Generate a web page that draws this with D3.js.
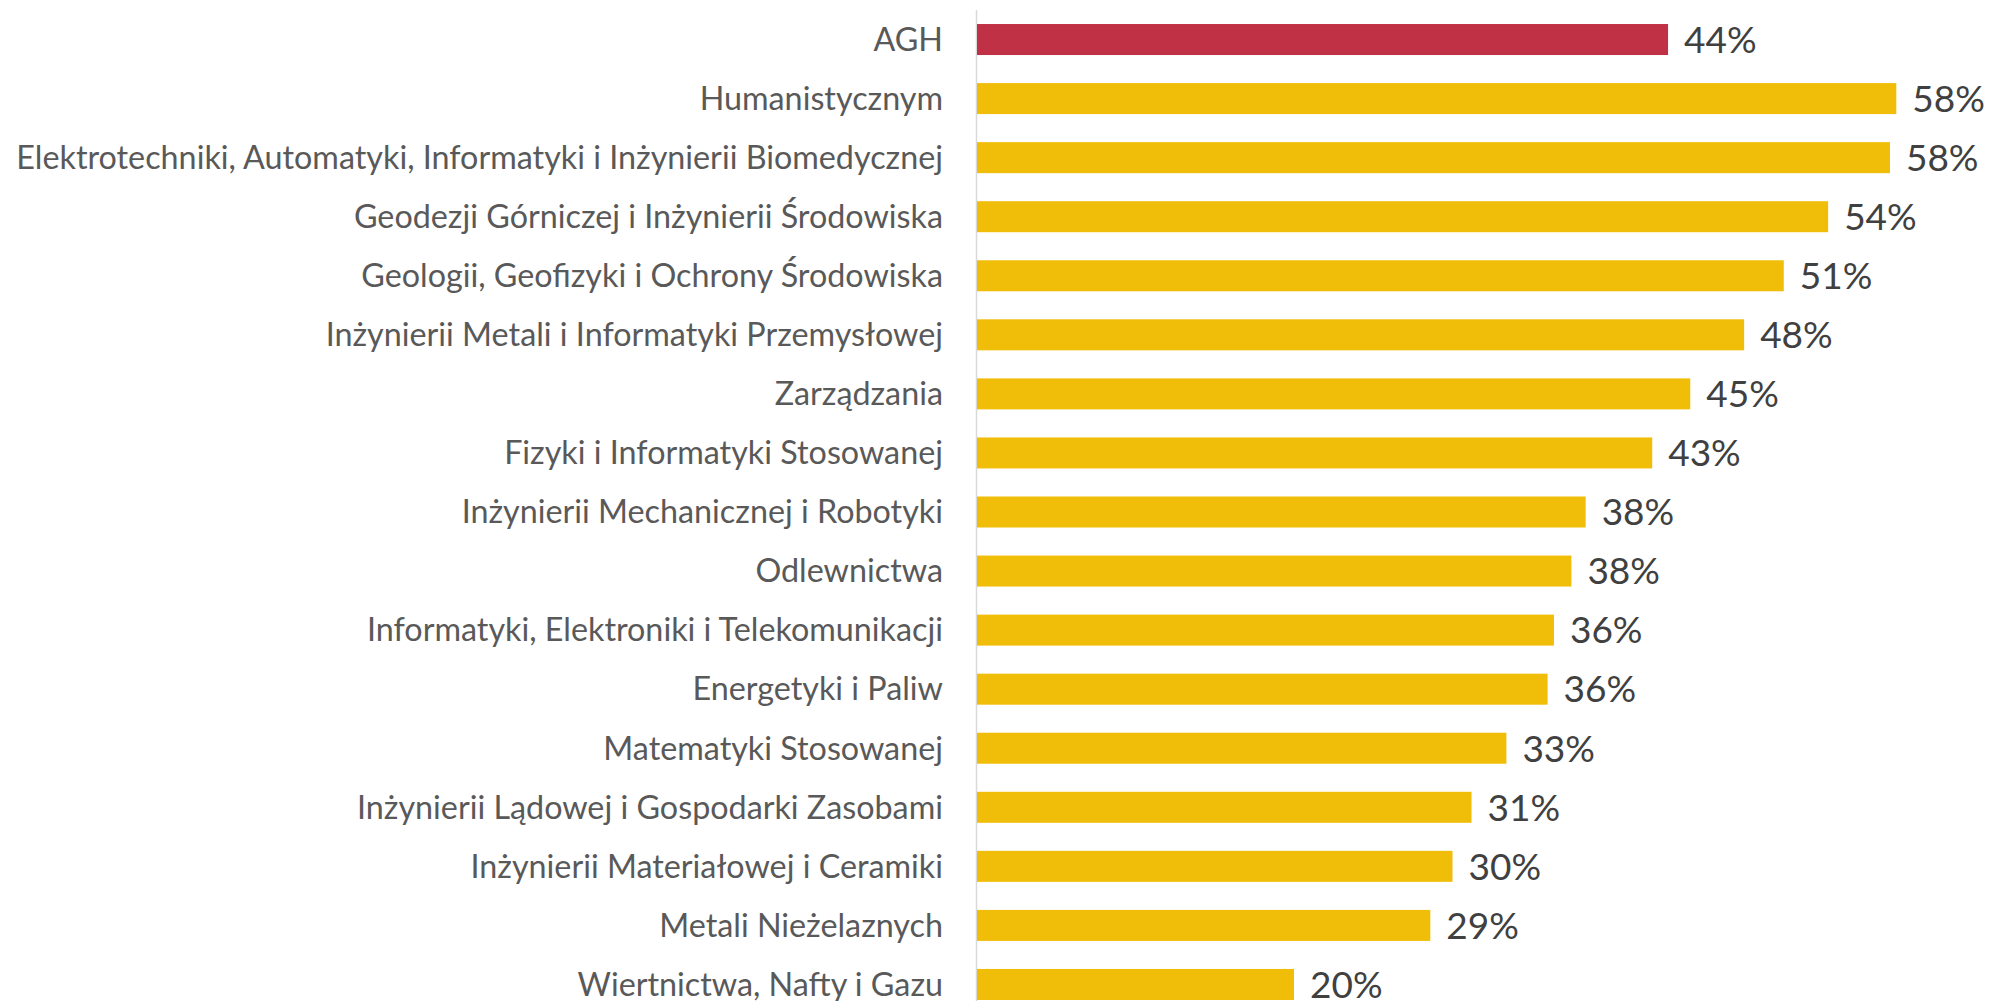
<!DOCTYPE html>
<html>
<head>
<meta charset="utf-8">
<script src="https://cdn.jsdelivr.net/npm/d3@7"></script>
<style>
    body { margin: 0; background: #ffffff; }
    .cat { font-family: Lato, "Open Sans", sans-serif; font-size: 32.3px; fill: #595959; }
    .val { font-family: Lato, "Open Sans", sans-serif; font-size: 37px; fill: #404040; }
</style>
</head>
<body>
<svg></svg>
<script>
document.addEventListener('DOMContentLoaded', function() {

let categories = [
    "AGH",
    "Humanistycznym",
    "Elektrotechniki, Automatyki, Informatyki i Inżynierii Biomedycznej",
    "Geodezji Górniczej i Inżynierii Środowiska",
    "Geologii, Geofizyki i Ochrony Środowiska",
    "Inżynierii Metali i Informatyki Przemysłowej",
    "Zarządzania",
    "Fizyki i Informatyki Stosowanej",
    "Inżynierii Mechanicznej i Robotyki",
    "Odlewnictwa",
    "Informatyki, Elektroniki i Telekomunikacji",
    "Energetyki i Paliw",
    "Matematyki Stosowanej",
    "Inżynierii Lądowej i Gospodarki Zasobami",
    "Inżynierii Materiałowej i Ceramiki",
    "Metali Nieżelaznych",
    "Wiertnictwa, Nafty i Gazu"
];

// share in percent
let values = [43.6, 58.0, 57.6, 53.7, 50.9, 48.4, 45.0, 42.6, 38.4, 37.5, 36.4, 36.0, 33.4, 31.2, 30.0, 28.6, 20.0];

let width = 1991;
let height = 1001;

let svg = d3.select("svg")
    .attr("width", width)
    .attr("height", height);

let x = d3.scaleLinear()
    .domain([0, 60])
    .range([977, 977 + 60 * 15.85]);

let y = d3.scaleBand()
    .domain(categories)
    .range([10, 1014])
    .paddingInner(0.475)
    .paddingOuter(0.2375);

// vertical axis line
svg.append("line")
    .attr("x1", x(0) - 0.5)
    .attr("x2", x(0) - 0.5)
    .attr("y1", y.range()[0])
    .attr("y2", y.range()[1])
    .attr("stroke", "#d9d9d9")
    .attr("stroke-width", 1.5);

let rows = categories.map(function(c, i) { return { name: c, value: values[i] }; });

svg.append("g")
    .selectAll("rect")
    .data(rows)
    .enter().append("rect")
    .attr("x", x(0))
    .attr("y", function(d) { return y(d.name); })
    .attr("width", function(d) { return x(d.value) - x(0); })
    .attr("height", y.bandwidth())
    .attr("fill", function(d) { return d.name === "AGH" ? "#c03146" : "#f0be08"; });

svg.append("g")
    .selectAll("text")
    .data(rows)
    .enter().append("text")
    .attr("class", "cat")
    .attr("x", x(0) - 34)
    .attr("y", function(d) { return y(d.name) + y.bandwidth() / 2; })
    .attr("dy", "0.35em")
    .attr("text-anchor", "end")
    .text(function(d) { return d.name; });

svg.append("g")
    .selectAll("text")
    .data(rows)
    .enter().append("text")
    .attr("class", "val")
    .attr("x", function(d) { return x(d.value) + 16; })
    .attr("y", function(d) { return y(d.name) + y.bandwidth() / 2; })
    .attr("dy", "0.36em")
    .text(function(d) { return Math.round(d.value) + "%"; });

});
</script>
</body>
</html>
